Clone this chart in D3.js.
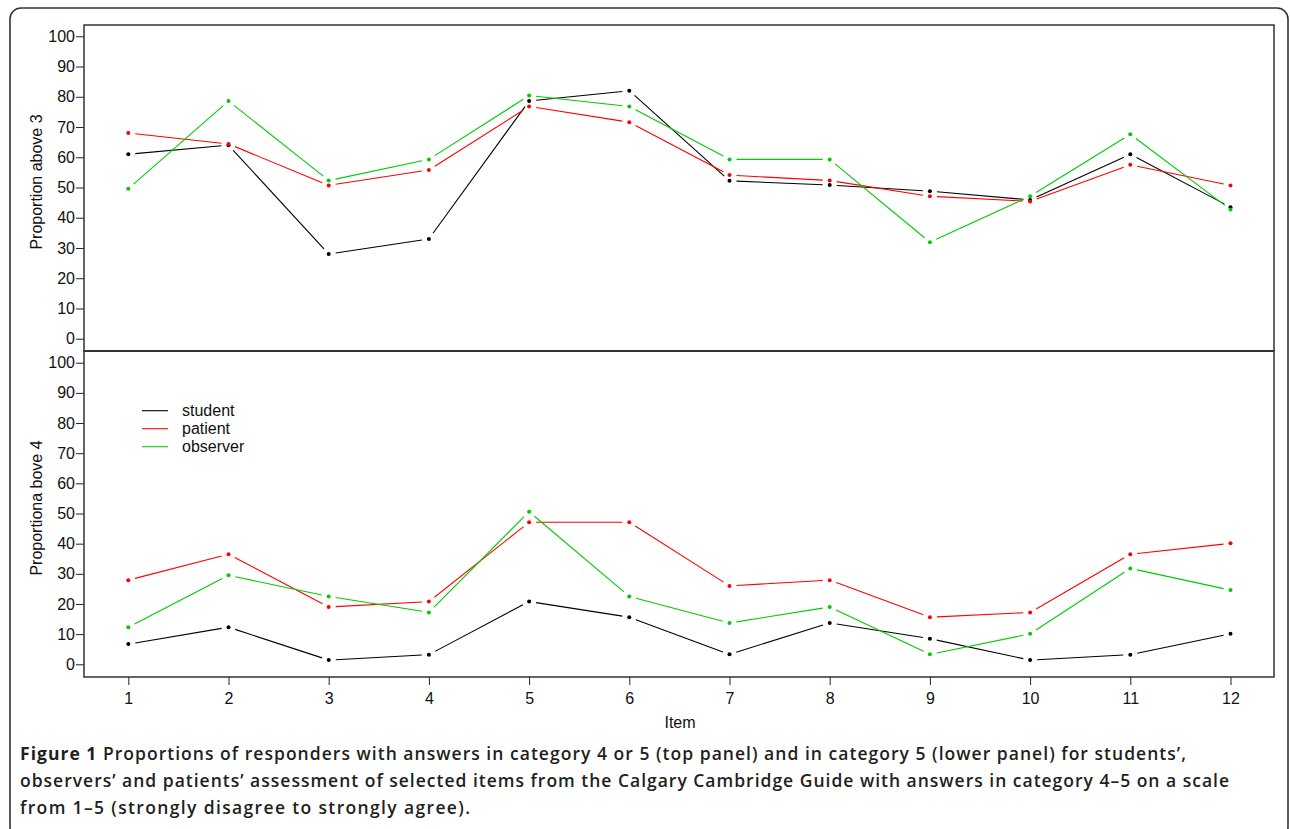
<!DOCTYPE html>
<html>
<head>
<meta charset="utf-8">
<script src="https://cdn.jsdelivr.net/npm/d3@7"></script>
<style>
  html, body { margin: 0; padding: 0; background: #fff; }
  svg { display: block; }
</style>
</head>
<body>
<svg id="chart" width="1290" height="829"></svg>
<script>
// ---- data ----
const items = [1, 2, 3, 4, 5, 6, 7, 8, 9, 10, 11, 12];
const yTicks = [0, 10, 20, 30, 40, 50, 60, 70, 80, 90, 100];
const seriesNames = ["student", "patient", "observer"];
const seriesColors = ["#000000", "#ff0000", "#00cc00"];

// top panel: proportion above 3 (category 4 or 5)
const topStudent  = [61, 64, 28, 33, 78.6, 82, 52.2, 50.8, 48.8, 45.9, 61, 43.5];
const topPatient  = [68, 64.4, 50.7, 55.8, 76.8, 71.6, 54.1, 52.3, 47.1, 45.4, 57.5, 50.7];
const topObserver = [49.6, 78.6, 52.3, 59.3, 80.4, 76.8, 59.3, 59.3, 31.9, 47.1, 67.6, 42.7];

// bottom panel: proportion above 4 (category 5)
const botStudent  = [6.7, 12.3, 1.4, 3.2, 20.8, 15.6, 3.3, 13.7, 8.5, 1.4, 3.2, 10.1];
const botPatient  = [27.9, 36.5, 19.0, 20.8, 47.1, 47.1, 26.0, 27.9, 15.6, 17.2, 36.5, 40.1];
const botObserver = [12.3, 29.5, 22.5, 17.2, 50.6, 22.5, 13.7, 19.0, 3.3, 10.1, 31.8, 24.6];

const topTitle = "Proportion above 3";
const botTitle = "Proportiona bove 4";
const xTitle = "Item";
const captionBold = "Figure 1";
const captionLines = [
  " Proportions of responders with answers in category 4 or 5 (top panel) and in category 5 (lower panel) for students\u2019,",
  "observers\u2019 and patients\u2019 assessment of selected items from the Calgary Cambridge Guide with answers in category 4\u20135 on a scale",
  "from 1\u20135 (strongly disagree to strongly agree)."
];

// ---- layout ----
const svg = d3.select("#chart");
const font = "'Liberation Sans', Arial, Helvetica, sans-serif";
const fs = 16;
const L = 84, R = 1274;
const panels = [
  { top: 25, bottom: 351, y0: 338.7, y100: 36.3, title: topTitle, data: [topStudent, topPatient, topObserver] },
  { top: 351, bottom: 677, y0: 664.3, y100: 362.7, title: botTitle, data: [botStudent, botPatient, botObserver] }
];

// outer frame
svg.append("rect")
  .attr("x", 10).attr("y", 8).attr("width", 1278).attr("height", 830)
  .attr("rx", 11).attr("ry", 11)
  .attr("fill", "none").attr("stroke", "#333").attr("stroke-width", 1.6);

const x = d3.scaleLinear().domain([1, 12]).range([128.3, 1230.5]);

const gapPx = 7;

panels.forEach((p, pi) => {
  const y = d3.scaleLinear().domain([0, 100]).range([p.y0, p.y100]);

  // y axis
  const ax = svg.append("g").attr("transform", `translate(${L},0)`)
    .call(d3.axisLeft(y).tickValues(yTicks).tickSize(8).tickPadding(1).tickFormat(d3.format("d")));
  ax.select(".domain").remove();
  ax.selectAll(".tick line").attr("stroke", "#222").attr("stroke-width", 1);
  ax.selectAll(".tick text").attr("font-family", font).attr("font-size", fs).attr("fill", "#111");

  // y title
  svg.append("text")
    .attr("transform", `translate(42,${(p.top + p.bottom) / 2 - 6}) rotate(-90)`)
    .attr("text-anchor", "middle")
    .attr("font-family", font).attr("font-size", fs).attr("fill", "#111")
    .text(p.title);

  // series
  p.data.forEach((vals, si) => {
    const color = seriesColors[si];
    const pts = vals.map((v, i) => [x(items[i]), y(v)]);
    const segs = [];
    for (let i = 0; i < pts.length - 1; i++) {
      const [x1, y1] = pts[i], [x2, y2] = pts[i + 1];
      const dx = x2 - x1, dy = y2 - y1, len = Math.hypot(dx, dy);
      if (len > 2 * gapPx) {
        const ux = dx / len, uy = dy / len;
        segs.push([x1 + ux * gapPx, y1 + uy * gapPx, x2 - ux * gapPx, y2 - uy * gapPx]);
      }
    }
    svg.append("g").selectAll("line").data(segs).join("line")
      .attr("x1", d => d[0]).attr("y1", d => d[1])
      .attr("x2", d => d[2]).attr("y2", d => d[3])
      .attr("stroke", color).attr("stroke-width", 1.1);
    svg.append("g").selectAll("circle").data(vals).join("circle")
      .attr("cx", (d, i) => x(items[i])).attr("cy", d => y(d))
      .attr("r", 2).attr("fill", color);
  });
});

// panel boxes
panels.forEach(p => {
  svg.append("rect")
    .attr("x", L).attr("y", p.top).attr("width", R - L).attr("height", p.bottom - p.top)
    .attr("fill", "none").attr("stroke", "#333").attr("stroke-width", 1.5);
});
svg.append("line").attr("x1", L).attr("x2", R).attr("y1", 351).attr("y2", 351)
  .attr("stroke", "#333").attr("stroke-width", 2.2);

// x axis
const xa = svg.append("g").attr("transform", "translate(0,677)")
  .call(d3.axisBottom(x).tickValues(items).tickSize(8).tickPadding(8).tickFormat(d3.format("d")));
xa.select(".domain").remove();
xa.selectAll(".tick line").attr("stroke", "#222").attr("stroke-width", 1);
xa.selectAll(".tick text").attr("font-family", font).attr("font-size", fs).attr("fill", "#111");

svg.append("text").attr("x", 680).attr("y", 728).attr("text-anchor", "middle")
  .attr("font-family", font).attr("font-size", fs).attr("fill", "#111").text(xTitle);

// legend
const legY = [410.7, 428.7, 446.7];
seriesNames.forEach((n, i) => {
  svg.append("line").attr("x1", 142).attr("x2", 168).attr("y1", legY[i]).attr("y2", legY[i])
    .attr("stroke", seriesColors[i]).attr("stroke-width", 1.1);
  svg.append("text").attr("x", 182).attr("y", legY[i] + 5.5)
    .attr("font-family", font).attr("font-size", fs).attr("fill", "#111").text(n);
});

// caption
const capFont = "'Open Sans', 'Noto Sans', sans-serif";
const capBase = [760, 787, 814];
const capWidths = [1166, 1209, 450];
captionLines.forEach((t, i) => {
  const tx = svg.append("text").attr("x", 20).attr("y", capBase[i])
    .attr("font-family", capFont).attr("font-size", 17.5).attr("fill", "#231f20")
    .attr("textLength", capWidths[i]).attr("lengthAdjust", "spacing");
  if (i === 0) {
    tx.append("tspan").attr("font-weight", 700).text(captionBold);
  }
  tx.append("tspan").attr("font-weight", 600).text(t);
});
</script>
</body>
</html>
